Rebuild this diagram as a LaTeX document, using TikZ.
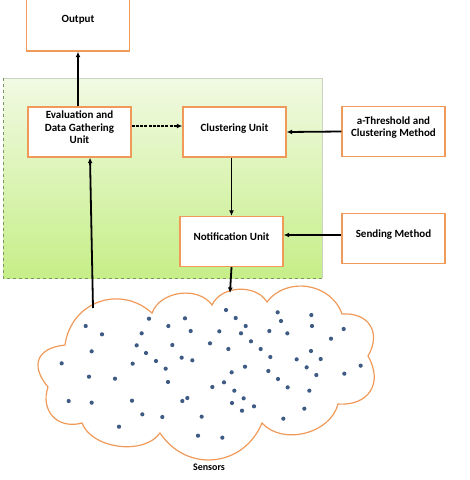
\documentclass[tikz,border=0pt]{standalone}
\usepackage{fontspec}
\setmainfont{Carlito}
\usetikzlibrary{arrows.meta}
\definecolor{boxorange}{HTML}{F09A5A}
\definecolor{greentop}{HTML}{F1FAE3}
\definecolor{greenbot}{HTML}{C6EE88}
\definecolor{greenedge}{HTML}{7F9268}
\definecolor{dotblue}{HTML}{3E5B84}
\tikzset{
  box/.style={draw=boxorange, line width=1.4pt, fill=white, minimum width=103pt,
    minimum height=50pt, align=center, inner sep=0pt, text depth=9.5pt,
    font=\fontsize{11}{12.5}\selectfont\bfseries},
  arr/.style={-{Latex[length=5.5pt,width=5pt]}, line width=1.8pt, black},
  sensor/.style={fill=dotblue, draw=none},
  bump/.style={bend left=62}
}
\begin{document}
\begin{tikzpicture}[x=1pt,y=-1pt]
\useasboundingbox (0,0) rectangle (470,480);
% green region
\shade[top color=greentop, bottom color=greenbot] (3,78) rectangle (322,278);
\draw[greenedge!40, line width=0.8pt] (3,78) -- (322,78) -- (322,278);
\draw[greenedge, dashed, line width=1pt] (3,78) -- (3,278) -- (322,278);
% boxes
\node[box, minimum height=54pt] (output) at (78,24) {Output};
\node[box] (eval) at (79.5,132) {Evaluation and\\Data Gathering\\Unit};
\node[box] (clus) at (234.5,132) {Clustering Unit};
\node[box] (athr) at (393.5,131.5) {a-Threshold and\\Clustering Method};
\node[box] (notif) at (231.5,241.5) {Notification Unit};
\node[box] (send) at (393.5,238.5) {Sending Method};
% cloud
\draw[boxorange, line width=1.2pt, fill=white]
  (65,345) to[bump, looseness=1.2] (152,313)
  to[bump] (212,305)
  to[bump] (267,302)
  to[bump, looseness=1.1] (342,314)
  to[bump, looseness=1.4] (368,356)
  to[bump, looseness=1.4] (338,404)
  to[bump] (262,423)
  to[bump, looseness=1.2] (160,433)
  to[bump, looseness=0.9] (82,423)
  to[bump, looseness=1.3] (48,387)
  to[bump, looseness=1.6] cycle;
\foreach \x/\y in {678/120,555/145,447/146,257/168,505/168,707/144,737/168,833/127,843/153,934/135,936/168,1031/177,306/193,425/190,572/183,658/184,723/190,808/183,862/190,993/206,410/226,517/225,630/220,685/237,753/214,782/237,275/244,438/249,545/263,577/271,468/273,811/261,890/268,933/243,962/267,185/280,398/281,497/296,735/290,695/307,805/303,920/292,1082/287,1033/311,949/315,267/320,345/326,504/336,672/337,637/351,834/327,863/352,703/362,928/362,206/393,275/398,396/392,547/393,562/384,731/385,696/399,762/409,726/422,913/416,427/433,487/441,605/440,850/446,357/470,594/497,667/503}
  \fill[sensor] ({\x/3},{270+\y/3}) circle (2.1pt);
\node[font=\fontsize{10}{12}\selectfont\bfseries] (sensors) at (209,467) {Sensors};
\coordinate (cloudtop) at (230,293);
\coordinate (cloudleft) at (93,308);
% connectors
\draw[arr, line width=2.3pt] (eval.north -| output.south) -- (output.south);
\draw[arr, dash pattern=on 3pt off 1.2pt] ([yshift=6pt]eval.east) -- ([yshift=6pt]clus.west);
\draw[arr] (athr.west) -- (clus.east);
\draw[arr] (clus.south -| notif.north) -- (notif.north);
\draw[arr] ([yshift=3.5pt]send.west) -- ([yshift=3.5pt]send.west -| notif.east);
\draw[arr] (notif.south) -- (cloudtop);
\draw[arr] (cloudleft) -- ([xshift=10.5pt]eval.south);
\end{tikzpicture}
\end{document}
